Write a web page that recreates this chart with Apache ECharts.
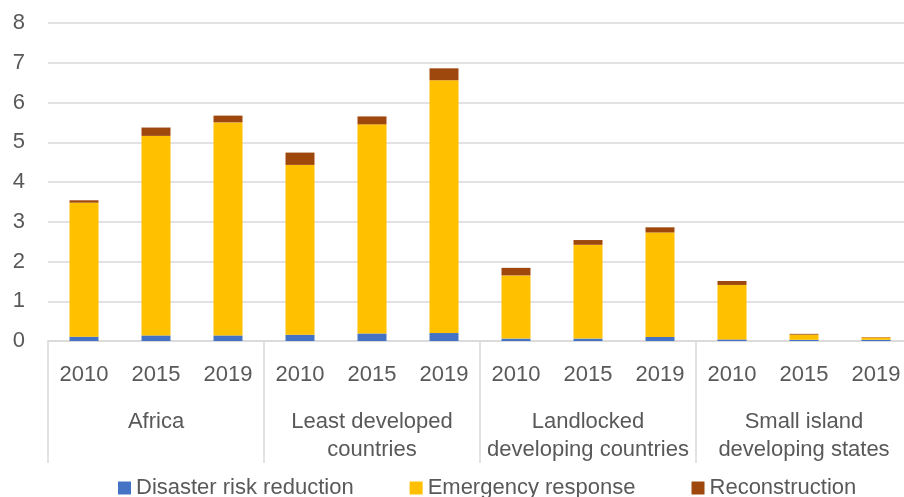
<!DOCTYPE html>
<html><head><meta charset="utf-8">
<script src="https://cdn.jsdelivr.net/npm/echarts@6/dist/echarts.min.js"></script>
<style>html,body{margin:0;padding:0;background:#fff}#c{width:904px;height:497px}</style>
</head><body><div id="c"></div>
<script>
const groups = ['Africa', 'Least developed\ncountries', 'Landlocked\ndeveloping countries', 'Small island\ndeveloping states'];
const years = ['2010', '2015', '2019'];
const categories = [];
groups.forEach(g => years.forEach(y => categories.push(y)));
const disasterRiskReduction = [0.11, 0.14, 0.14, 0.16, 0.19, 0.20, 0.06, 0.06, 0.10, 0.04, 0.03, 0.03];
const emergencyResponse     = [3.37, 5.02, 5.36, 4.27, 5.26, 6.36, 1.59, 2.36, 2.63, 1.37, 0.13, 0.06];
const reconstruction        = [0.06, 0.21, 0.17, 0.31, 0.20, 0.30, 0.19, 0.12, 0.13, 0.10, 0.02, 0.01];
const yTicks = [0, 1, 2, 3, 4, 5, 6, 7, 8];

const font = 'Liberation Sans';
const txt = '#595959';
const chart = echarts.init(document.getElementById('c'), null, {renderer: 'canvas'});
const mk = (name, data, color) => ({
  name, type: 'bar', stack: 's', data, xAxisIndex: 0, barWidth: 29,
  itemStyle: {color}, emphasis: {disabled: true}
});
chart.setOption({
  animation: false,
  grid: {left: 48, top: 23, width: 864, height: 318, containLabel: false, outerBoundsMode: 'none'},
  legend: {
    left: 118, top: 477, padding: 0, itemWidth: 13, itemHeight: 13, itemGap: 56, icon: 'rect',
    textStyle: {color: txt, fontSize: 22, fontFamily: font},
    data: ['Disaster risk reduction', 'Emergency response', 'Reconstruction']
  },
  xAxis: [
    {type: 'category', data: categories, position: 'bottom',
     axisLine: {show: false}, axisTick: {show: false},
     axisLabel: {color: txt, fontSize: 22, fontFamily: font, margin: 23, interval: 0}},
    {type: 'category', data: groups, position: 'bottom',
     axisLine: {show: true, lineStyle: {color: '#d9d9d9', width: 1.5}},
     axisTick: {show: true, length: 122, lineStyle: {color: '#d9d9d9', width: 1.5}},
     axisLabel: {color: txt, fontSize: 22, fontFamily: font, margin: 67, lineHeight: 28, interval: 0, verticalAlign: 'top'}}
  ],
  yAxis: {
    type: 'value', min: yTicks[0], max: yTicks[yTicks.length - 1], interval: 1,
    axisLine: {show: false}, axisTick: {show: false},
    axisLabel: {color: txt, fontSize: 22, fontFamily: font, margin: 23},
    splitLine: {lineStyle: {color: '#d9d9d9', width: 1.5}}
  },
  series: [
    mk('Disaster risk reduction', disasterRiskReduction, '#4472C4'),
    mk('Emergency response', emergencyResponse, '#FFC000'),
    mk('Reconstruction', reconstruction, '#9E480E')
  ]
});
</script></body></html>
